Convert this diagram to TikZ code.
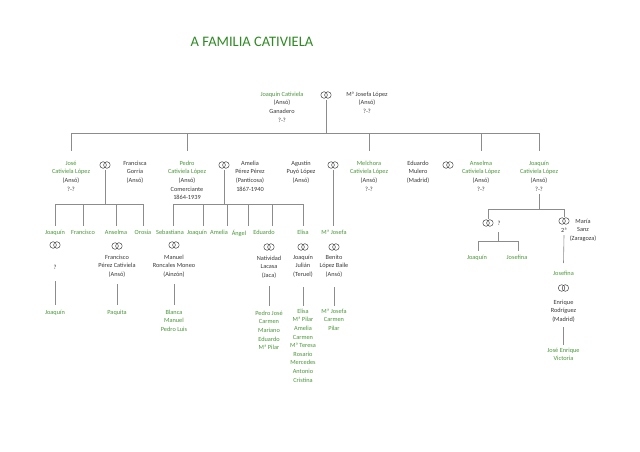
\documentclass[tikz,border=0pt]{standalone}
\usepackage{fontspec}
\setmainfont{Carlito}
\definecolor{gr}{HTML}{4A963A}
\definecolor{ttl}{HTML}{2F8A24}
\definecolor{tx}{HTML}{3A3A3A}
\definecolor{ln}{HTML}{8C8C8C}
\newcommand\gn[1]{\textcolor{gr}{#1}}
\begin{document}
\begin{tikzpicture}[x=1pt,y=-1pt,
  every node/.style={inner sep=0pt, outer sep=0pt},
  person/.style={anchor=north, align=center, font=\fontsize{6.3}{8.6}\selectfont, text=tx},
  kid/.style={person, text=gr},
  single/.style={anchor=center, font=\fontsize{6.3}{8.6}\selectfont, text=tx},
  rings/.style={minimum width=12pt, minimum height=9pt, path picture={
    \draw[tx, line width=0.45pt] ([xshift=-1.9pt]path picture bounding box.center) circle[radius=3.3pt];
    \draw[tx, line width=0.45pt] ([xshift=1.9pt]path picture bounding box.center) circle[radius=3.3pt];}},
  conn/.style={draw=ln, line width=0.6pt}]
\fill[white] (0,0) rectangle (640,452);
\useasboundingbox (0,0) rectangle (640,452);

\node[font=\fontsize{14.5}{16}\selectfont, text=ttl] (title) at (252,42) {A FAMILIA CATIVIELA};

% generation 0
\node[person] (jc) at (282,92) {\gn{Joaquín Cativiela}\\(Ansó)\\Ganadero\\?-?};
\node[rings] (r0) at (326,95) {};
\node[person] (mj) at (367,92) {Mª Josefa López\\(Ansó)\\?-?};
\coordinate (b0l) at (72,133);
\coordinate (b0r) at (539,133);
\draw[conn] (b0l) -- (b0r);
\draw[conn] (r0.south) -- (r0.south |- b0l);

% generation 1
\node[person] (jose) at (71,161) {\gn{José}\\\gn{Cativiela López}\\(Ansó)\\?-?};
\node[rings] (r1) at (105,165) {};
\node[person] (francisca) at (135,161) {Francisca\\Gorría\\(Ansó)};
\node[person] (pedro) at (187,161) {\gn{Pedro}\\\gn{Cativiela López}\\(Ansó)\\Comerciante\\1864-1939};
\node[rings] (r2) at (224,165) {};
\node[person] (amelia) at (250,161) {Amelia\\Pérez Pérez\\(Panticosa)\\1867-1940};
\node[person] (agustin) at (301,161) {Agustín\\Puyó López\\(Ansó)};
\node[rings] (r3) at (333,165) {};
\node[person] (melchora) at (369,161) {\gn{Melchora}\\\gn{Cativiela López}\\(Ansó)\\?-?};
\node[person] (eduardom) at (418,161) {Eduardo\\Mulero\\(Madrid)};
\node[rings] (r4) at (448,165) {};
\node[person] (anselma) at (481,161) {\gn{Anselma}\\\gn{Cativiela López}\\(Ansó)\\?-?};
\node[person] (joaquin) at (539,161) {\gn{Joaquín}\\\gn{Cativiela López}\\(Ansó)\\?-?};

\foreach \n in {jose,pedro,melchora,anselma,joaquin}
  \draw[conn] (\n.north |- b0l) -- ([yshift=10pt]\n.north);

% José's family
\coordinate (b1l) at (56,204);
\coordinate (b1r) at (143,204);
\draw[conn] (b1l) -- (b1r);
\draw[conn] (r1.south) -- (r1.south |- b1l);
\node[kid] (ja) at (55,230) {Joaquín};
\node[kid] (fr) at (83,230) {Francisco};
\node[kid] (an) at (116,230) {Anselma};
\node[kid] (or) at (143,230) {Orosia};
\foreach \n in {ja,fr,an,or}
  \draw[conn] (\n.north |- b1l) -- ([yshift=4pt]\n.north);

\node[rings] (r21) at (55,245) {};
\node[single] (q21) at (55,267) {?};
\node[kid] (ja3) at (55,310) {Joaquín};
\draw[conn] ([yshift=-12pt]q21.south) -- ([yshift=5pt]ja3.north);

\node[rings] (r22) at (117,246) {};
\node[person] (fp) at (117,255) {Francisco\\Pérez Cativiela\\(Ansó)};
\node[kid] (paq) at (117,310) {Paquita};
\draw[conn] ([yshift=-7pt]fp.south) -- ([yshift=5pt]paq.north);

% Pedro's family
\coordinate (b2l) at (173,204);
\coordinate (b2r) at (303,204);
\draw[conn] (b2l) -- (b2r);
\draw[conn] (r2.south) -- (r2.south |- b2l);
\coordinate (p1) at (173,204);
\coordinate (p2) at (203,204);
\coordinate (p3) at (227,204);
\coordinate (p4) at (248,204);
\coordinate (p5) at (272,204);
\coordinate (p6) at (303,204);
\node[kid] (seb) at (170,230) {Sebastiana};
\node[kid] (jq) at (197,230) {Joaquín};
\node[kid] (am) at (219,230) {Amelia};
\node[kid] (ang) at (239,230) {Ángel};
\node[kid] (ed) at (264,230) {Eduardo};
\node[kid] (el) at (303,230) {Elisa};
\draw[conn] (p1) -- ([yshift=4pt]p1 |- seb.north);
\draw[conn] (p2) -- ([yshift=4pt]p2 |- jq.north);
\draw[conn] (p3) -- ([yshift=4pt]p3 |- am.north);
\draw[conn] (p4) -- ([yshift=4pt]p4 |- ang.north);
\draw[conn] (p5) -- ([yshift=4pt]p5 |- ed.north);
\draw[conn] (p6) -- ([yshift=4pt]p6 |- el.north);

\node[rings] (r23) at (174,245) {};
\node[person] (mr) at (174,255) {Manuel\\Roncales Moneo\\(Ainzón)};
\node[kid] (sk) at (174,310) {Blanca\\Manuel\\Pedro Luis};
\draw[conn] ([yshift=-7pt]mr.south) -- ([yshift=5pt]sk.north);

\node[rings] (r24) at (269,247) {};
\node[person] (nl) at (269,256) {Natividad\\Lacasa\\(Jaca)};
\node[kid] (ek) at (269,311) {Pedro José\\Carmen\\Mariano\\Eduardo\\Mª Pilar};
\draw[conn] ([yshift=-8pt]nl.south) -- ([yshift=5pt]ek.north);

\node[rings] (r25) at (303,247) {};
\node[person] (jj) at (303,255) {Joaquín\\Julián\\(Teruel)};
\node[kid] (elk) at (303,309) {Elisa\\Mª Pilar\\Amelia\\Carmen\\Mª Teresa\\Rosario\\Mercedes\\Antonio\\Cristina};
\draw[conn] ([yshift=-10pt]jj.south) -- ([yshift=3pt]elk.north);

% Melchora's family
\node[kid] (mj2) at (334,230) {Mª Josefa};
\draw[conn] (r3.south) -- ([yshift=4pt]r3.south |- mj2.north);
\node[rings] (r26) at (334,247) {};
\node[person] (bl) at (334,255) {Benito\\López Baile\\(Ansó)};
\node[kid] (mjk) at (334,309) {Mª Josefa\\Carmen\\Pilar};
\draw[conn] ([yshift=-10pt]bl.south) -- ([yshift=3pt]mjk.north);

% Joaquín's family
\coordinate (b5l) at (488,209);
\coordinate (b5r) at (564,209);
\draw[conn] (b5l) -- (b5r);
\draw[conn] ([yshift=-3pt]joaquin.south) -- (joaquin.south |- b5l);
\node[rings] (r5) at (488,223) {};
\node[single] (q5) at (499,223) {?};
\draw[conn] (b5l) -- (r5.north);
\coordinate (b6l) at (478,241);
\coordinate (b6r) at (518,241);
\draw[conn] (b6l) -- (b6r);
\draw[conn] ([xshift=-1pt,yshift=-7pt]q5.south) -- ([xshift=-1pt]q5.south |- b6l);
\node[kid] (jq5) at (477,255) {Joaquín};
\node[kid] (jf5) at (517,255) {Josefina};
\draw[conn] (b6l) -- ([yshift=4pt]b6l |- jq5.north);
\draw[conn] (b6r) -- ([yshift=4pt]b6r |- jf5.north);

\node[rings] (r6) at (564,221) {};
\draw[conn] (b5r) -- (r6.north);
\node[single] (two) at (564,230) {2ª};
\node[person] (maria) at (583,219) {María\\Sanz\\(Zaragoza)};
\node[kid] (jos3) at (563.5,271) {Josefina};
\draw[conn] ([yshift=-3pt]two.south) -- ([yshift=8pt]jos3.north);
\node[rings] (r7) at (563.5,288) {};
\node[person] (enr) at (563.5,300) {Enrique\\Rodríguez\\(Madrid)};
\node[kid] (jev) at (563.5,348) {José Enrique\\Victoria};
\draw[conn] ([yshift=-5pt]enr.south) -- ([yshift=3pt]jev.north);
\end{tikzpicture}
\end{document}
